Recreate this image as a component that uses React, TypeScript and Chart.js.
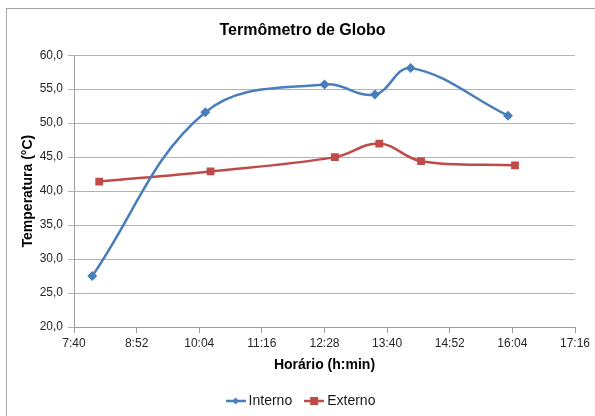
import { useEffect, useRef } from 'react';
import { Chart, registerables } from 'chart.js';

Chart.register(...registerables);

// Horários de medição (h:min) e temperaturas de globo (°C)
const internoHorarios = ['8:01', '10:11', '12:28', '13:26', '14:07', '15:59'];
const internoTemp = [27.5, 51.6, 55.7, 54.2, 58.1, 51.1];

const externoHorarios = ['8:09', '10:17', '12:40', '13:31', '14:19', '16:07'];
const externoTemp = [41.4, 42.9, 45.0, 47.0, 44.4, 43.8];

// Eixos
const eixoXInicio = '7:40';
const eixoXFim = '17:16';
const eixoXPassoMin = 72;
const eixoYMin = 20;
const eixoYMax = 60;
const eixoYPasso = 5;

const AZUL = '#4A7EBB';
const VERMELHO = '#BE4B48';
const FONTE = '"Liberation Sans", Arial, sans-serif';

const paraMinutos = (h: string) => {
  const [hh, mm] = h.split(':').map(Number);
  return hh * 60 + mm;
};
const formatarHora = (m: number) => `${Math.floor(m / 60)}:${String(Math.round(m % 60)).padStart(2, '0')}`;

const pontos = (horarios: string[], valores: number[]) =>
  horarios.map((h, i) => ({ x: paraMinutos(h), y: valores[i] }));

// Ícone da legenda: linha com o marcador no meio
function iconeLegenda(cor: string, forma: 'losango' | 'quadrado') {
  const c = document.createElement('canvas');
  c.width = 20;
  c.height = 10;
  const ctx = c.getContext('2d')!;
  ctx.strokeStyle = cor;
  ctx.lineWidth = 2.5;
  ctx.beginPath();
  ctx.moveTo(0, 5);
  ctx.lineTo(20, 5);
  ctx.stroke();
  ctx.fillStyle = cor;
  ctx.beginPath();
  if (forma === 'losango') {
    ctx.moveTo(10, 1.5);
    ctx.lineTo(13.5, 5);
    ctx.lineTo(10, 8.5);
    ctx.lineTo(6.5, 5);
    ctx.closePath();
  } else {
    ctx.rect(6, 1, 8, 8);
  }
  ctx.fill();
  return c;
}

// Moldura cinza em volta do gráfico
const moldura = {
  id: 'moldura',
  beforeDraw(chart: Chart) {
    const { ctx } = chart;
    ctx.save();
    ctx.fillStyle = '#ffffff';
    ctx.fillRect(0, 0, chart.width, chart.height);
    ctx.strokeStyle = '#a6a6a6';
    ctx.lineWidth = 1;
    ctx.strokeRect(6.5, 8.5, chart.width + 10, chart.height + 10);
    ctx.restore();
  },
};

export default function App() {
  const canvasRef = useRef<HTMLCanvasElement | null>(null);

  useEffect(() => {
    if (!canvasRef.current) return;
    const icones = [iconeLegenda(AZUL, 'losango'), iconeLegenda(VERMELHO, 'quadrado')];

    const chart = new Chart(canvasRef.current, {
      type: 'line',
      data: {
        datasets: [
          {
            label: 'Interno',
            data: pontos(internoHorarios, internoTemp),
            borderColor: AZUL,
            backgroundColor: AZUL,
            borderWidth: 2.5,
            pointStyle: 'rectRot',
            pointRadius: 5,
            pointBorderWidth: 0,
            tension: 0.38,
          },
          {
            label: 'Externo',
            data: pontos(externoHorarios, externoTemp),
            borderColor: VERMELHO,
            backgroundColor: VERMELHO,
            borderWidth: 2.5,
            pointStyle: 'rect',
            pointRadius: 5.5,
            pointBorderWidth: 0,
            tension: 0.38,
          },
        ],
      },
      options: {
        responsive: false,
        animation: false,
        layout: { padding: { top: 9, left: 30, right: 20, bottom: 0 } },
        font: { family: FONTE },
        plugins: {
          tooltip: { enabled: false },
          title: {
            display: true,
            text: 'Termômetro de Globo',
            color: '#000000',
            font: { family: FONTE, size: 16, weight: 'bold' },
            padding: { top: 12, bottom: 15 },
          },
          legend: {
            display: true,
            position: 'bottom',
            maxHeight: 38,
            labels: {
              usePointStyle: true,
              pointStyleWidth: 12,
              padding: 16,
              color: '#1a1a1a',
              font: { family: FONTE, size: 14 },
              generateLabels: (c: Chart) =>
                c.data.datasets.map((ds, i) => ({
                  text: ds.label as string,
                  datasetIndex: i,
                  pointStyle: icones[i] as any,
                  fillStyle: ds.borderColor as string,
                  strokeStyle: ds.borderColor as string,
                  lineWidth: 0,
                  fontColor: '#1a1a1a',
                  hidden: false,
                })),
            },
          },
        },
        scales: {
          x: {
            type: 'linear',
            min: paraMinutos(eixoXInicio),
            max: paraMinutos(eixoXFim),
            afterFit: (s: any) => {
              s.height = 51;
            },
            border: { display: true, color: '#a0a0a0', width: 1 },
            grid: { drawOnChartArea: false, drawTicks: true, tickLength: 6, color: '#a0a0a0' },
            ticks: {
              stepSize: eixoXPassoMin,
              padding: 3,
              color: '#262626',
              maxRotation: 0,
              autoSkip: false,
              font: { family: FONTE, size: 12 },
              callback: (v: any) => formatarHora(Number(v)),
            },
            title: {
              display: true,
              text: 'Horário (h:min)',
              color: '#000000',
              font: { family: FONTE, size: 14, weight: 'bold' },
              padding: { top: 0, bottom: 4 },
            },
          },
          y: {
            min: eixoYMin,
            max: eixoYMax,
            afterFit: (s: any) => {
              s.width = 44;
            },
            border: { display: true, color: '#a0a0a0', width: 1 },
            grid: { color: '#b3b3b3', tickLength: 6, drawTicks: true },
            ticks: {
              stepSize: eixoYPasso,
              padding: 5,
              color: '#262626',
              font: { family: FONTE, size: 12 },
              callback: (v: any) => Number(v).toFixed(1).replace('.', ','),
            },
            title: {
              display: true,
              text: 'Temperatura (°C)',
              color: '#000000',
              font: { family: FONTE, size: 14, weight: 'bold' },
              padding: { top: -10.4, bottom: 0 },
            },
          },
        },
      },
      plugins: [moldura],
    });

    return () => chart.destroy();
  }, []);

  return (
    <div
      style={{
        position: 'fixed',
        left: 0,
        top: 0,
        width: 595,
        height: 416,
        overflow: 'hidden',
        background: '#ffffff',
      }}
    >
      <canvas ref={canvasRef} width={595} height={416} style={{ display: 'block' }} />
    </div>
  );
}
